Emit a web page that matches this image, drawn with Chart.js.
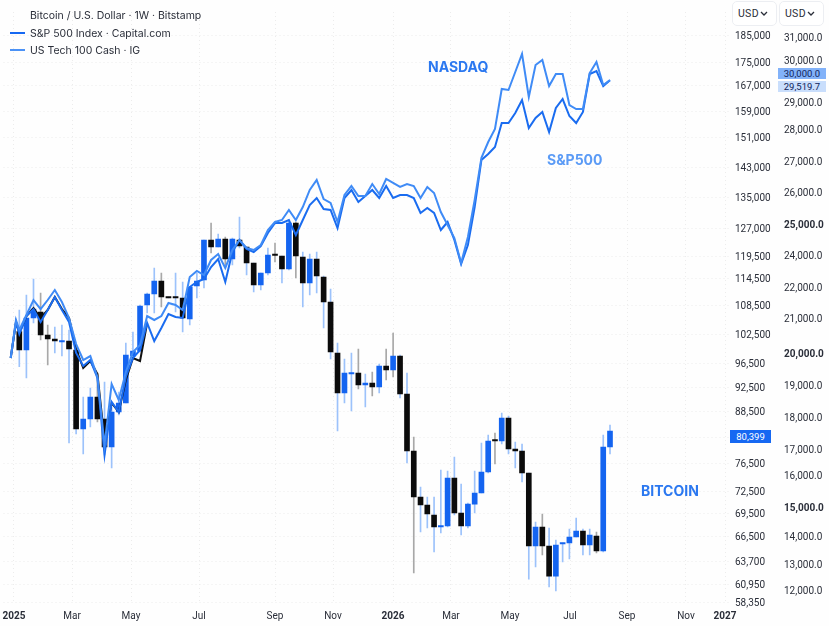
<!DOCTYPE html>
<html>
<head>
<meta charset="utf-8">
<title>Bitcoin vs S&amp;P 500 and Nasdaq</title>
<script src="https://cdn.jsdelivr.net/npm/chart.js@4/dist/chart.umd.min.js"></script>
<style>
    html, body { margin: 0; padding: 0; background: #fefefe; }
    #wrap { position: relative; width: 829px; height: 626px; overflow: hidden; font-family: Inter, sans-serif; color: #2a2e39; }
    #wrap div { position: absolute; white-space: nowrap; }
    .legend { font-size: 10.5px; line-height: 14px; left: 30px; }
    .swatch { left: 10px; width: 15px; height: 2px; }
    .note { font-size: 14px; font-weight: 700; line-height: 18px; }
    .usd { top: 1px; width: 43px; height: 23px; border: 1px solid #eceef2; border-radius: 5px; font-family: Roboto, sans-serif; font-size: 10.5px; letter-spacing: 0.3px; line-height: 23px; text-indent: 5px; background: #fff; }
    .usd svg { position: absolute; right: 8px; top: 9px; }
    .tag { font-family: Roboto, sans-serif; font-size: 9.5px; text-align: center; }
</style>
</head>
<body>
<div id="wrap">
    <canvas id="chart" width="829" height="626"></canvas>
    <div class="legend" style="top:9px">Bitcoin / U.S. Dollar · 1W · Bitstamp</div>
    <div class="swatch" style="top:32px;background:#1668f2"></div>
    <div class="legend" style="top:27px">S&amp;P 500 Index · Capital.com</div>
    <div class="swatch" style="top:49px;background:#4b92f6"></div>
    <div class="legend" style="top:44px">US Tech 100 Cash · IG</div>
    <div class="note" style="left:428px;top:58px;color:#2b78f0">NASDAQ</div>
    <div class="note" style="left:547px;top:151px;color:#5b9bf6">S&amp;P500</div>
    <div class="note" style="left:641px;top:482px;color:#2b78f0">BITCOIN</div>
    <div class="usd" style="left:732px">USD<svg width="8" height="5"><path d="M1 1l3 3 3-3" fill="none" stroke="#2a2e39" stroke-width="1.3"/></svg></div>
    <div class="usd" style="left:779px">USD<svg width="8" height="5"><path d="M1 1l3 3 3-3" fill="none" stroke="#2a2e39" stroke-width="1.3"/></svg></div>
    <div class="tag" style="left:778px;top:68px;width:48px;height:11px;line-height:11px;background:#82b2f9;color:#10245a">30,000.0</div>
    <div class="tag" style="left:778px;top:81px;width:48px;height:11px;line-height:11px;background:#c9defc;color:#10245a">29,519.7</div>
    <div class="tag" style="left:730px;top:430px;width:41px;height:13px;line-height:13px;background:#1668f2;color:#fff">80,399</div>
</div>

<script>
// weekly BTC candles, first one is week 0
const opens = [102980, 99190, 105810, 107050, 102290, 101470, 100850, 101050, 99190, 82890, 86000, 90830, 86000, 78900, 88190, 89830, 97950, 98980, 108500, 110950, 113830, 110280, 110280, 110060, 105600, 112720, 114060, 123780, 121910, 124050, 118820, 123780, 121910, 117910, 112950, 115640, 119770, 119500, 116550, 128290, 119270, 113390, 118820, 114730, 109170, 98570, 91500, 94660, 94830, 92830, 93170, 92500, 96000, 95330, 97950, 91330, 78300, 71680, 70590, 69240, 67670, 67810, 74360, 69500, 67810, 70720, 72230, 75210, 79950, 79800, 86320, 78600, 78300, 75070, 65380, 67670, 65380, 61900, 65600, 65720, 66390, 67150, 65490, 66500, 64820, 78900];
const highs = [107470, 110730, 114280, 111170, 104360, 103940, 104360, 103330, 99190, 90830, 92330, 94830, 93340, 90000, 91670, 100640, 102910, 108500, 111170, 116780, 115640, 110280, 115640, 113610, 112500, 115640, 123780, 128290, 125390, 124590, 124320, 129840, 121910, 117910, 115640, 121640, 122980, 119500, 129070, 128550, 120570, 120040, 120570, 114950, 112060, 100640, 97330, 98570, 99400, 94660, 95000, 96330, 99400, 102710, 98160, 94830, 80399, 73070, 71680, 71680, 75500, 75360, 77400, 73500, 70860, 75360, 79500, 81020, 81650, 87880, 86940, 79650, 79350, 75070, 68330, 69370, 67540, 66050, 65720, 67410, 68850, 67410, 67410, 67020, 81020, 84130];
const lows = [95880, 94000, 104770, 101260, 96170, 98570, 97950, 79500, 81330, 77850, 83510, 85070, 77700, 75790, 87250, 89830, 97120, 98770, 106840, 106840, 108090, 110060, 107050, 102910, 104360, 110060, 112280, 120300, 121910, 117460, 117460, 121640, 115180, 111390, 111840, 115180, 118140, 113390, 116320, 114500, 108090, 110730, 111170, 103740, 97330, 82270, 89830, 88500, 92170, 89170, 91000, 91500, 93670, 94170, 90660, 76500, 62260, 67020, 67540, 64710, 66890, 67670, 69240, 66630, 67540, 69500, 72230, 75070, 76360, 79350, 77850, 75790, 73780, 61540, 62980, 64370, 60520, 59940, 63580, 63920, 66390, 64370, 64370, 64600, 64710, 77850];
const closes = [99190, 105810, 107670, 102290, 101470, 101050, 101050, 99400, 82890, 86000, 90830, 86000, 78900, 88190, 89830, 98160, 98980, 108290, 110950, 113830, 110280, 110060, 110060, 105810, 112500, 113830, 123780, 121910, 124050, 118820, 124050, 122180, 117910, 112950, 115640, 119770, 119640, 116550, 128290, 119500, 113390, 118820, 114950, 109170, 98770, 91500, 94830, 94830, 92830, 93170, 92500, 96000, 95330, 97950, 91330, 78300, 71680, 70590, 69370, 67670, 67810, 74360, 69500, 67810, 70720, 72230, 75210, 79800, 79800, 86320, 78600, 78300, 75070, 65380, 67670, 65380, 61900, 65490, 65720, 66390, 67150, 65490, 66630, 64820, 78900, 82270];
const grayWickWeeks = [3, 4, 11, 20, 27, 29, 36, 39, 48, 50, 52, 53, 56, 68, 75, 83];

// overlay lines, these start two steps before the first candle
const nasdaq = [19844, 20943, 20657, 21096, 21580, 21289, 21580, 21903, 21516, 21000, 20256, 19781, 19906, 19250, 17125, 19031, 18531, 19406, 20028, 20228, 21063, 20943, 21063, 21483, 21419, 21257, 22625, 23000, 22750, 23688, 24032, 23188, 24161, 24483, 24226, 24161, 24323, 24806, 25063, 25125, 25438, 25125, 25531, 26065, 26388, 25781, 25656, 25063, 25906, 26194, 25875, 25875, 26258, 25938, 26420, 26291, 26162, 26258, 26194, 25813, 26162, 25969, 25375, 24968, 24548, 23500, 24581, 25750, 27097, 27594, 28000, 29310, 29286, 29714, 30260, 29119, 29881, 30000, 29381, 29667, 29667, 28889, 28741, 28741, 29690, 29952, 29405, 29520];
const sp500 = [19844, 20886, 20542, 21063, 21289, 20886, 21257, 21677, 21257, 20886, 20000, 19594, 19781, 19219, 16769, 18469, 18156, 19250, 19844, 20086, 20857, 20342, 20714, 21129, 21032, 21000, 22000, 22313, 22500, 23250, 23750, 22313, 24097, 24483, 24194, 24097, 24290, 24710, 25032, 25032, 25125, 24645, 25125, 25594, 25813, 25469, 25438, 24871, 25813, 26065, 25688, 25875, 26065, 25813, 26194, 25813, 25906, 25906, 25813, 25344, 25500, 25344, 24806, 25063, 24484, 23438, 24323, 25531, 27032, 27219, 27438, 28222, 28222, 28593, 29048, 28037, 28407, 28630, 27906, 28778, 29071, 28481, 28222, 28630, 29667, 29738, 29381, 29520];
const darkLine = [19844, 20886, 20571, 21063, 21322, 21000, 21257, 21677, 21289, 21000, 20114, 19531, 19750, 19344, 17281, 18438, 18156, 19156, 19844, 19750, 20857];

const btcTicks = [185000, 175000, 167000, 159000, 151000, 143000, 135000, 127000, 119500, 114500, 108500, 102500, 96500, 92500, 88500, 80399, 76500, 72500, 69500, 66500, 63700, 60950, 58350];
const usdTicks = [31000, 30000, 29000, 28000, 27000, 26000, 25000, 24000, 22000, 21000, 20000, 19000, 18000, 17000, 16000, 15000, 14000, 13000, 12000];
const boldUsdTicks = [25000, 20000, 15000];
const timeLabels = ['2025', 'Mar', 'May', 'Jul', 'Sep', 'Nov', '2026', 'Mar', 'May', 'Jul', 'Sep', 'Nov', '2027'];
const timeTickWeeks = [-1.38, 7.42, 15.73, 25.3, 36, 44.35, 52.99, 61.5, 70.22, 79.09, 87.51, 96.2, 101.97];

// the price axes on the reference are hand stretched, not a clean log or linear
// so each axis is calibrated with value -> canvas pixel knots
const btcAxisPixels = [35, 62, 85, 111, 137, 167, 197, 228, 256, 278, 305, 334, 363, 387, 411, 437, 463, 491, 513, 536, 561, 584, 602];
const usdAxisPixels = [37, 60, 102, 129, 161, 192, 224, 255, 287, 318, 353, 385, 417, 449, 475, 507, 536, 564, 590];
const weekKnots = [-2, -1, 0, 36, 55, 85, 102.7];
const weekPixels = [10.7, 16, 19.3, 275, 407, 610, 730];

class KnotScale extends Chart.LinearScale {
    static id = 'knot';
    static defaults = Chart.LinearScale.defaults;

    knotPair() {
        const k = this.options.knots;
        // sort ascending by value so both axis directions work the same way
        return k.values.map((v, i) => [v, k.pixels[i]]).sort((a, b) => a[0] - b[0]);
    }

    getPixelForValue(value) {
        const pairs = this.knotPair();
        let i = 0;
        while (i < pairs.length - 2 && value > pairs[i + 1][0]) {
            i++;
        }
        const [v0, p0] = pairs[i];
        const [v1, p1] = pairs[i + 1];
        return p0 + (value - v0) / (v1 - v0) * (p1 - p0);
    }

    getValueForPixel(pixel) {
        const pairs = this.knotPair().sort((a, b) => a[1] - b[1]);
        let i = 0;
        while (i < pairs.length - 2 && pixel > pairs[i + 1][1]) {
            i++;
        }
        const [v0, p0] = pairs[i];
        const [v1, p1] = pairs[i + 1];
        return v0 + (pixel - p0) / (p1 - p0) * (v1 - v0);
    }

    // price labels sit a touch high with middle baseline, nudge them down
    _computeLabelItems(chartArea) {
        const items = super._computeLabelItems(chartArea);
        if (this.axis === 'y') {
            items.forEach(item => { item.options.translation[1] += 1.5; });
        }
        return items;
    }
}
Chart.register(KnotScale);

const BLUE = '#1464f0';
const BLACK = '#0b0b0b';
const tickFont = { family: 'Roboto, sans-serif', size: 10 };

function linePoints(values) {
    return values.map((v, i) => ({ x: i - 2, y: v }));
}

const bodies = opens.map((o, i) => ({ x: i, y: [o, closes[i]] }));
const wicks = lows.map((l, i) => ({ x: i, y: [l, highs[i]] }));
const bodyColors = opens.map((o, i) => closes[i] >= o ? BLUE : BLACK);
const wickColors = opens.map((o, i) => grayWickWeeks.includes(i) ? '#a8a8a8' : '#9cc2fb');

new Chart(document.getElementById('chart'), {
    type: 'bar',
    data: {
        datasets: [
            {
                type: 'line',
                label: 'US Tech 100 Cash',
                data: linePoints(nasdaq),
                yAxisID: 'yUsd',
                borderColor: '#3f8bf6',
                borderWidth: 2,
                pointRadius: 0,
                tension: 0,
                order: 0
            },
            {
                type: 'line',
                label: 'S&P 500 Index',
                data: linePoints(sp500),
                yAxisID: 'yUsd',
                borderColor: '#1a6cf0',
                borderWidth: 2,
                pointRadius: 0,
                tension: 0,
                order: 1
            },
            {
                type: 'line',
                label: 'Dark overlay',
                data: linePoints(darkLine),
                yAxisID: 'yUsd',
                borderColor: '#111',
                borderWidth: 2,
                pointRadius: 0,
                tension: 0,
                order: 2
            },
            {
                label: 'BTC body',
                data: bodies,
                yAxisID: 'yBtc',
                backgroundColor: bodyColors,
                barThickness: 5,
                minBarLength: 1.5,
                grouped: false,
                order: 3
            },
            {
                label: 'BTC wick',
                data: wicks,
                yAxisID: 'yBtc',
                backgroundColor: wickColors,
                barThickness: 1,
                grouped: false,
                order: 4
            }
        ]
    },
    options: {
        responsive: false,
        animation: false,
        layout: { padding: 0 },
        plugins: {
            legend: { display: false },
            tooltip: { enabled: false }
        },
        scales: {
            x: {
                type: 'knot',
                knots: { values: weekKnots, pixels: weekPixels },
                position: 'bottom',
                min: -4,
                max: 102.7,
                offset: false,
                afterBuildTicks: s => { s.ticks = timeTickWeeks.map(value => ({ value })); },
                afterFit: s => { s.height = 22; },
                border: { display: false, dash: [1, 3] },
                grid: { color: '#ececec', offset: false, drawTicks: false },
                ticks: {
                    autoSkip: false,
                    maxRotation: 0,
                    padding: 6,
                    color: '#2a2e39',
                    font: ctx => ({ ...tickFont, weight: /^\d/.test(timeLabels[ctx.index]) ? '700' : '400' }),
                    callback: (v, i) => timeLabels[i]
                }
            },
            yBtc: {
                type: 'knot',
                knots: { values: btcTicks, pixels: btcAxisPixels },
                position: 'right',
                min: 57000,
                max: 205000,
                weight: 0,
                afterBuildTicks: s => { s.ticks = btcTicks.map(value => ({ value })); },
                afterFit: s => { s.width = 48; },
                border: { display: false, dash: [1, 3] },
                grid: { color: '#ececec', drawTicks: false },
                ticks: {
                    autoSkip: false,
                    padding: 5,
                    color: '#2a2e39',
                    font: tickFont,
                    crossAlign: 'near',
                    callback: v => v.toLocaleString('en-US')
                }
            },
            yUsd: {
                type: 'knot',
                knots: { values: usdTicks, pixels: usdAxisPixels },
                position: 'right',
                min: 11000,
                max: 33000,
                weight: 1,
                afterBuildTicks: s => { s.ticks = usdTicks.map(value => ({ value })); },
                afterFit: s => { s.width = 51; },
                border: { display: false },
                grid: { display: false, drawTicks: false },
                ticks: {
                    autoSkip: false,
                    padding: 6,
                    color: '#2a2e39',
                    font: ctx => ({ ...tickFont, weight: boldUsdTicks.includes(usdTicks[ctx.index]) ? '700' : '400' }),
                    crossAlign: 'near',
                    callback: v => v.toLocaleString('en-US', { minimumFractionDigits: 1 })
                }
            }
        }
    }
});
</script>
</body>
</html>
